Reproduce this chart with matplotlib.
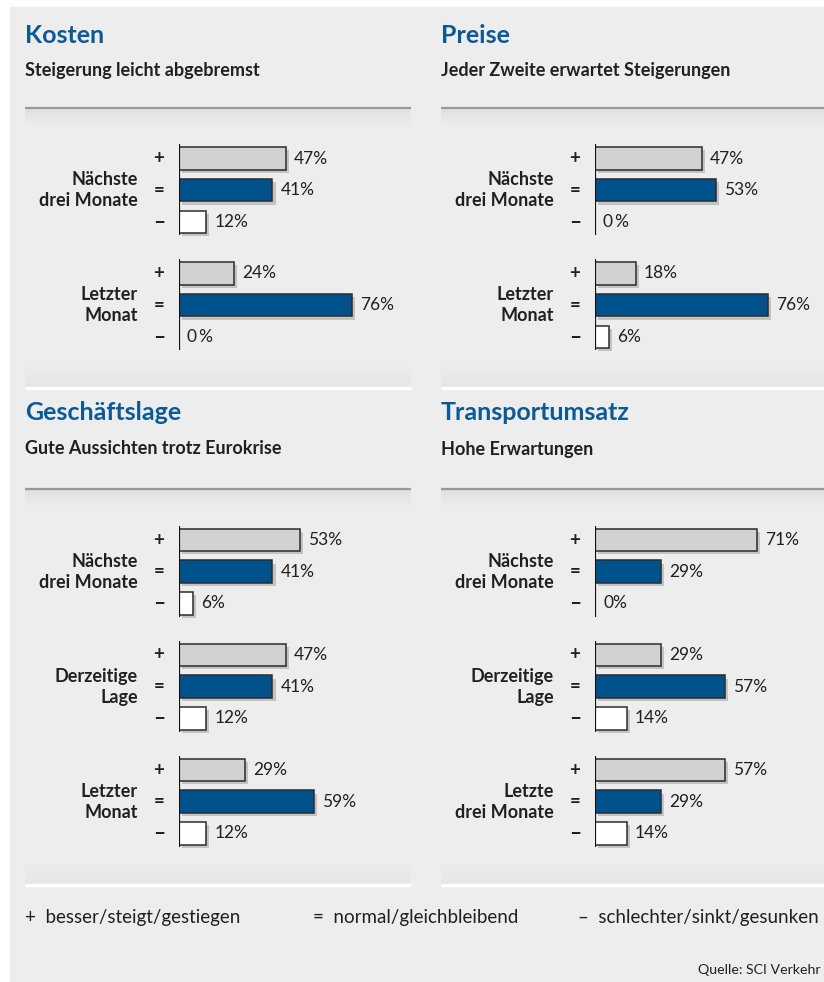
import matplotlib
matplotlib.use("Agg")
import matplotlib.pyplot as plt
import matplotlib.patheffects as pe
from matplotlib.transforms import offset_copy
from matplotlib.colors import LinearSegmentedColormap
import numpy as np

plt.rcParams['font.family'] = ['Lato', 'DejaVu Sans']

# ---------------- data ----------------
titles = ["Kosten", "Preise", "Geschäftslage", "Transportumsatz"]
subtitles = ["Steigerung leicht abgebremst", "Jeder Zweite erwartet Steigerungen",
             "Gute Aussichten trotz Eurokrise", "Hohe Erwartungen"]

kosten_groups = ["Nächste\ndrei Monate", "Letzter\nMonat"]
kosten_plus = [47, 24]
kosten_equal = [41, 76]
kosten_minus = [12, 0]

preise_groups = ["Nächste\ndrei Monate", "Letzter\nMonat"]
preise_plus = [47, 18]
preise_equal = [53, 76]
preise_minus = [0, 6]

lage_groups = ["Nächste\ndrei Monate", "Derzeitige\nLage", "Letzter\nMonat"]
lage_plus = [53, 47, 29]
lage_equal = [41, 41, 59]
lage_minus = [6, 12, 12]

umsatz_groups = ["Nächste\ndrei Monate", "Derzeitige\nLage", "Letzte\ndrei Monate"]
umsatz_plus = [71, 29, 57]
umsatz_equal = [29, 57, 29]
umsatz_minus = [0, 14, 14]

zero_labels = ["0\u2009%", "0\u2009%", "0%", "0%"]
signs = ["+", "=", "–"]
sign_sizes = [13.5, 13.5, 15]
legend_items = ["+  besser/steigt/gestiegen", "=  normal/gleichbleibend",
                "–  schlechter/sinkt/gesunken"]
source = "Quelle: SCI Verkehr"

panels = [
    (kosten_groups, kosten_plus, kosten_equal, kosten_minus),
    (preise_groups, preise_plus, preise_equal, preise_minus),
    (lage_groups, lage_plus, lage_equal, lage_minus),
    (umsatz_groups, umsatz_plus, umsatz_equal, umsatz_minus),
]

# ---------------- style ----------------
W, H = 824, 982
BG = "#ededed"
BLUE_T = "#0b5a96"
TXT = "#231f20"
COLS = ["#d1d2d4", "#00528c", "#ffffff"]
EDGE = "#2b2b2b"
PX_PER_PCT = 2.28
ITEM = 31.7
GROUP = 115.0
BAR_H = 22.5

fig = plt.figure(figsize=(W / 100, H / 100), dpi=100)
fig.patch.set_facecolor("white")
bg = fig.add_axes([0, 0, 1, 1])
bg.set_xlim(0, W)
bg.set_ylim(H, 0)
bg.axis("off")

bg.add_patch(plt.Rectangle((10, 7), W - 10, H - 7, color=BG, zorder=0))

col_x = [25, 441]
col_x1 = [411, W]
row_title_y = [35, 413]
row_sub_y = [70, 449]
row_line_y = [108, 489]
row_sep_y = [388, 885]

grad = np.linspace(0, 1, 64).reshape(-1, 1)
cm_down = LinearSegmentedColormap.from_list("g", ["#e0e0e0", BG])
cm_up = LinearSegmentedColormap.from_list("g2", [BG, "#e6e6e6"])

for r in range(2):
    for c in range(2):
        x0, x1 = col_x[c], col_x1[c]
        bg.imshow(grad, extent=(x0, x1, row_line_y[r] + 18, row_line_y[r]), cmap=cm_down,
                  aspect="auto", zorder=1, interpolation="bilinear")
        bg.plot([x0, x1], [row_line_y[r], row_line_y[r]], color="#999999", lw=1.6,
                solid_capstyle="butt", zorder=2)
        bg.imshow(grad, extent=(x0, x1, row_sep_y[r] - 1, row_sep_y[r] - 22), cmap=cm_up,
                  aspect="auto", zorder=1, interpolation="bilinear")
        bg.plot([x0, x1], [row_sep_y[r], row_sep_y[r]], color="white", lw=2.4,
                solid_capstyle="butt", zorder=2)
        i = r * 2 + c
        bg.text(x0, row_title_y[r], titles[i], color=BLUE_T, fontsize=18,
                fontweight="bold", va="center", ha="left", zorder=3)
        bg.text(x0, row_sub_y[r], subtitles[i], color=TXT, fontsize=13,
                fontweight="bold", va="center", ha="left", zorder=3)

# ---------------- bar panels ----------------
axis_x = [179, 595]
first_y = [158.5, 540]

for i, (groups, plus, equal, minus) in enumerate(panels):
    r, c = divmod(i, 2)
    n = len(groups)
    top = first_y[r] - 25
    bottom = first_y[r] + (n - 1) * GROUP + 2 * ITEM + 25
    ax = fig.add_axes([axis_x[c] / W, 1 - bottom / H, 100 * PX_PER_PCT / W, (bottom - top) / H])
    ax.set_xlim(0, 100)
    ax.set_ylim(bottom - first_y[r], top - first_y[r])
    ax.axis("off")
    ax.patch.set_alpha(0)

    series = [plus, equal, minus]
    for g in range(n):
        base = g * GROUP
        for k in range(3):
            v = series[k][g]
            y = base + k * ITEM
            if v > 0:
                ax.barh(y, v, height=BAR_H, color=COLS[k], edgecolor=EDGE, linewidth=1.1,
                        zorder=3,
                        path_effects=[pe.SimplePatchShadow(offset=(2.2, -2.2), shadow_rgbFace="#777777",
                                                           alpha=0.35), pe.Normal()])
                label = f"{v}%"
            else:
                label = zero_labels[i]
            ax.annotate(label, (v, y), xytext=(8, 0), textcoords="offset pixels",
                        va="center", ha="left", fontsize=12.5, color=TXT, zorder=4)
            ax.text(0, y, signs[k], transform=offset_copy(ax.transData, fig, x=-20, y=0, units="dots"),
                    ha="center", va="center", fontsize=sign_sizes[k], fontweight="bold", color=TXT)
        ax.plot([0, 0], [base - BAR_H / 2 - 3, base + 2 * ITEM + BAR_H / 2 + 2], color="#111111",
                lw=1.6, solid_capstyle="butt", zorder=5)
        ax.text(0, base + ITEM, groups[g], transform=offset_copy(ax.transData, fig, x=-41, y=0, units="dots"),
                ha="right", va="center", fontsize=13, fontweight="bold", color=TXT, linespacing=1.3)

# ---------------- legend & source ----------------
leg_x = [25, 313, 578]
for x, t in zip(leg_x, legend_items):
    bg.text(x, 917, t, fontsize=13.5, color=TXT, va="center", ha="left", zorder=3)
bg.text(W - 3, 970, source, fontsize=10.2, color=TXT, va="center", ha="right", zorder=3)

fig.savefig("out.png", dpi=100, facecolor="white")
